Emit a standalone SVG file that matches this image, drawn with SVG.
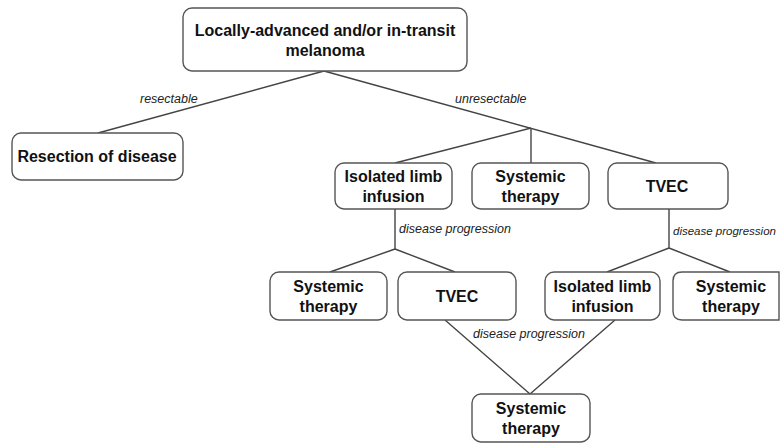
<svg xmlns="http://www.w3.org/2000/svg" width="783" height="445" viewBox="0 0 783 445">
<style>
.box{fill:#fff;stroke:#555;stroke-width:1.4}
.t{font-family:"Liberation Sans",Arial,sans-serif;font-weight:bold;font-size:16px;fill:#111;text-anchor:middle}
.lbl{font-family:"Liberation Sans",Arial,sans-serif;font-style:italic;font-size:12.5px;fill:#222}
.ln{stroke:#444;stroke-width:1.4;fill:none}
</style>
<rect width="783" height="445" fill="#fff"/>
<g id="connectors">
<path class="ln" d="M324,71 L98,133"/>
<path class="ln" d="M324,71 L656,163"/>
<path class="ln" d="M531,128 L395,163"/>
<path class="ln" d="M531,128 L531,163"/>
<path class="ln" d="M395,209 L395,249 M395,249 L330,272 M395,249 L455,272"/>
<path class="ln" d="M669,209 L669,248 M669,248 L607,272 M669,248 L730,272"/>
<path class="ln" d="M445,320 L530,394 M615,320 L530,394"/>
<text class="lbl" x="140" y="103">resectable</text>
<text class="lbl" x="455" y="103">unresectable</text>
<text class="lbl" x="399" y="233">disease progression</text>
<text class="lbl" x="673" y="235" style="font-size:11.5px">disease progression</text>
<text class="lbl" x="473" y="338">disease progression</text>
</g>
<g id="n-root">
<rect class="box" x="183" y="8" width="284" height="63" rx="9"/>
<text class="t" x="325" y="35.5">Locally-advanced and/or in-transit</text>
<text class="t" x="325" y="55.5">melanoma</text>
</g>
<g id="n-resection">
<rect class="box" x="12" y="133" width="171" height="47" rx="9"/>
<text class="t" x="97" y="162">Resection of disease</text>
</g>
<g id="n-ili1">
<rect class="box" x="335" y="163" width="117" height="46" rx="9"/>
<text class="t" x="393.5" y="182">Isolated limb</text>
<text class="t" x="393.5" y="202">infusion</text>
</g>
<g id="n-sys1">
<rect class="box" x="472" y="163" width="117" height="46" rx="9"/>
<text class="t" x="530.5" y="182">Systemic</text>
<text class="t" x="530.5" y="202">therapy</text>
</g>
<g id="n-tvec1">
<rect class="box" x="608" y="163" width="120" height="46" rx="9"/>
<text class="t" x="667" y="192">TVEC</text>
</g>
<g id="n-sys2">
<rect class="box" x="270" y="272" width="117" height="48" rx="9"/>
<text class="t" x="328.5" y="292">Systemic</text>
<text class="t" x="328.5" y="312">therapy</text>
</g>
<g id="n-tvec2">
<rect class="box" x="398" y="272" width="118" height="48" rx="9"/>
<text class="t" x="457" y="302">TVEC</text>
</g>
<g id="n-ili2">
<rect class="box" x="545" y="272" width="115" height="48" rx="9"/>
<text class="t" x="602.5" y="292">Isolated limb</text>
<text class="t" x="602.5" y="312">infusion</text>
</g>
<g id="n-sys3">
<path class="box" d="M682,272 H779 V320 H682 Q673,320 673,311 V281 Q673,272 682,272 Z"/>
<text class="t" x="731" y="292">Systemic</text>
<text class="t" x="731" y="312">therapy</text>
</g>
<g id="n-sys4">
<rect class="box" x="472" y="394" width="118" height="48" rx="9"/>
<text class="t" x="531" y="414">Systemic</text>
<text class="t" x="531" y="434">therapy</text>
</g>
</svg>
